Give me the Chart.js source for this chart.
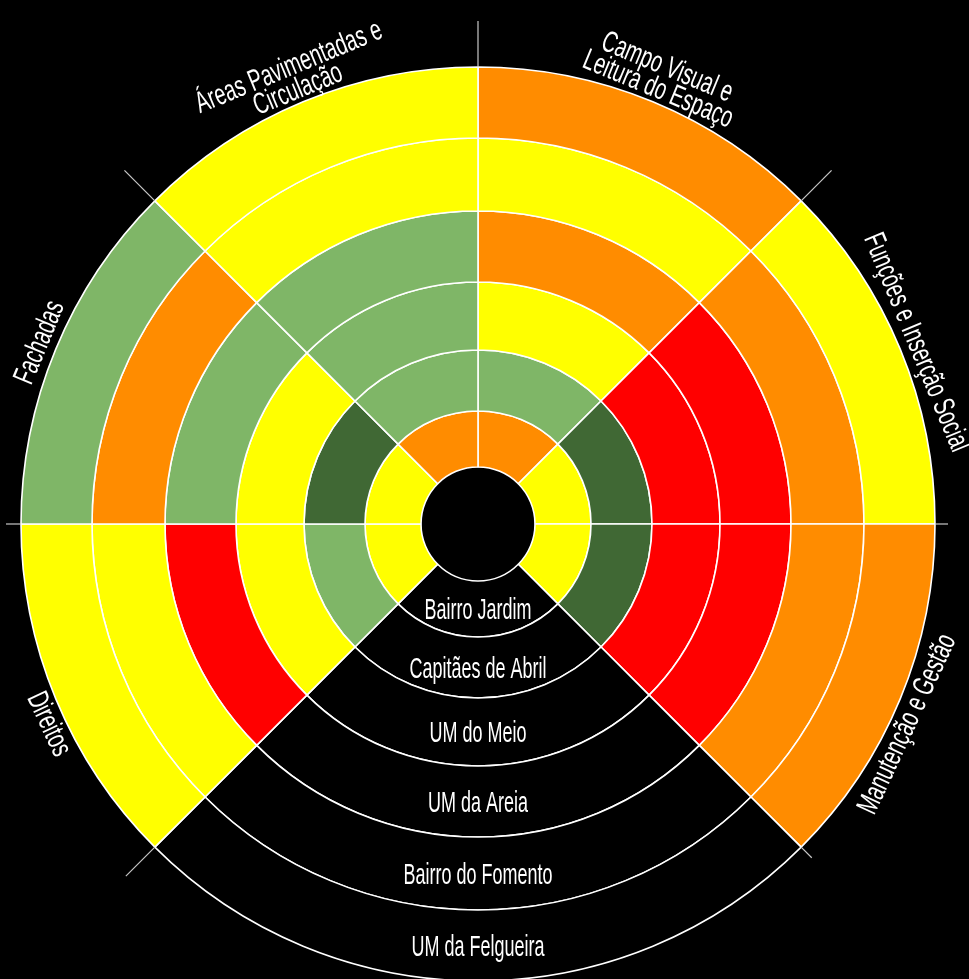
<!DOCTYPE html>
<html>
<head>
<meta charset="utf-8">
<script src="https://cdn.jsdelivr.net/npm/chart.js@4.4.1/dist/chart.umd.min.js"></script>
<style>
  html, body { margin: 0; padding: 0; background: #000; overflow: hidden; }
  #wrap { position: relative; width: 969px; height: 979px; }
</style>
</head>
<body>
<div id="wrap"><canvas id="chart" width="969" height="979"></canvas></div>
<script>
// Dimensões avaliadas, sentido horário a partir do topo (uma linha de texto por entrada)
const CATEGORIES = [
    ['Campo Visual e', 'Leitura do Espaço'],
    ['Funções e Inserção Social'],
    ['Manutenção e Gestão'],
    ['Direitos'],
    ['Fachadas'],
    ['Áreas Pavimentadas e', 'Circulação'],
];

// Unidades de análise, do centro para fora
const AREAS = ['Bairro Jardim', 'Capitães de Abril', 'UM do Meio', 'UM da Areia', 'Bairro do Fomento', 'UM da Felgueira'];

// Classificação: 1 = vermelho (pior) ... 5 = verde escuro (melhor), pela ordem de CATEGORIES
const BAIRRO_JARDIM = [2, 3, 3, 3, 3, 2];
const CAPITAES_DE_ABRIL = [4, 5, 5, 4, 5, 4];
const UM_DO_MEIO = [3, 1, 1, 3, 3, 4];
const UM_DA_AREIA = [2, 1, 1, 1, 4, 4];
const BAIRRO_DO_FOMENTO = [3, 2, 2, 3, 2, 3];
const UM_DA_FELGUEIRA = [2, 3, 2, 3, 4, 3];

const RATINGS = [BAIRRO_JARDIM, CAPITAES_DE_ABRIL, UM_DO_MEIO, UM_DA_AREIA, BAIRRO_DO_FOMENTO, UM_DA_FELGUEIRA];

const RATING_COLORS = {
    1: '#ff0000',
    2: '#ff8c00',
    3: '#ffff00',
    4: '#7fb667',
    5: '#406834',
};

// o setor dos nomes fica entre Manutenção e Direitos e ocupa dois setores
const GAP_INDEX = 3;
const GAP_SPAN = 2;

// estilo
const RING_WIDTHS = [56, 61, 68, 71, 73, 71]; // do centro para fora, px
const HOLE_RADIUS = 57;
const OUTER_RADIUS = 457;
const TICK_EXTRA = [46, 43, 13, 15, 41, 15, 43]; // prolongamento das linhas radiais, por fronteira
const LABEL_SHIFT = [0, 0, 2.5, -2.5, 0, 0]; // graus, ajuste fino da posição dos nomes
const FONT = '"Liberation Sans", Arial, sans-serif';

const spans = () => {
    const s = CATEGORIES.map(() => 1);
    s.splice(GAP_INDEX, 0, GAP_SPAN);
    return s;
};

const ringColors = (ratings) => {
    const c = ratings.map((r) => RATING_COLORS[r]);
    c.splice(GAP_INDEX, 0, '#000000');
    return c;
};

const sliceLabels = CATEGORIES.map((c) => c.join(' '));
sliceLabels.splice(GAP_INDEX, 0, '');

// Chart.js desenha o primeiro dataset por fora
const datasets = AREAS.map((area, i) => ({
    label: area,
    data: spans(),
    backgroundColor: ringColors(RATINGS[i]),
    borderColor: '#ffffff',
    borderWidth: 1.6,
    weight: RING_WIDTHS[i],
})).reverse();

const drawSqueezed = (ctx, text, x, y, rot, size, sx) => {
    ctx.save();
    ctx.translate(x, y);
    ctx.rotate(rot);
    ctx.scale(sx, 1);
    ctx.font = `${size}px ${FONT}`;
    ctx.fillText(text, 0, 0);
    ctx.restore();
};

const wheelDecor = {
    id: 'wheelDecor',
    afterDatasetsDraw(chart) {
        const { ctx } = chart;
        const outer = chart.getDatasetMeta(0).data;

        // linhas radiais prolongadas para fora da roda
        ctx.save();
        ctx.strokeStyle = '#c8c8c8';
        ctx.lineWidth = 1.2;
        outer.forEach((arc, i) => {
            const a = arc.startAngle;
            const r0 = arc.outerRadius;
            const r1 = r0 + TICK_EXTRA[i];
            ctx.beginPath();
            ctx.moveTo(arc.x + r0 * Math.cos(a), arc.y + r0 * Math.sin(a));
            ctx.lineTo(arc.x + r1 * Math.cos(a), arc.y + r1 * Math.sin(a));
            ctx.stroke();
        });
        ctx.restore();

        ctx.save();
        ctx.fillStyle = '#ffffff';
        ctx.textAlign = 'center';
        ctx.textBaseline = 'middle';

        // nomes das dimensões, tangentes à roda
        let k = 0;
        outer.forEach((arc, i) => {
            if (i === GAP_INDEX) return;
            const lines = CATEGORIES[k];
            const a = (arc.startAngle + arc.endAngle) / 2 + (LABEL_SHIFT[k] * Math.PI) / 180;
            k++;
            const upper = Math.sin(a) < 0;
            const rot = upper ? a + Math.PI / 2 : a - Math.PI / 2;
            const base = arc.outerRadius + (lines.length > 1 ? 13 : 17);
            lines.forEach((line, j) => {
                const idx = upper ? lines.length - 1 - j : j;
                const r = base + idx * 24;
                drawSqueezed(ctx, line, arc.x + r * Math.cos(a), arc.y + r * Math.sin(a), rot, 30, 0.66);
            });
        });

        // nomes das unidades no setor preto
        AREAS.forEach((area, i) => {
            const meta = chart.getDatasetMeta(AREAS.length - 1 - i);
            const gap = meta.data[GAP_INDEX];
            const r = (gap.innerRadius + gap.outerRadius) / 2 + 2;
            drawSqueezed(ctx, area, gap.x, gap.y + r, 0, 29, 0.62);
        });
        ctx.restore();
    },
};

new Chart(document.getElementById('chart'), {
    type: 'doughnut',
    data: { labels: sliceLabels, datasets },
    options: {
        responsive: false,
        devicePixelRatio: 1,
        animation: false,
        radius: OUTER_RADIUS,
        cutout: `${(HOLE_RADIUS / OUTER_RADIUS) * 100}%`,
        layout: { padding: { left: 0, right: 13, top: 69, bottom: 0 } },
        plugins: {
            legend: { display: false },
            tooltip: { enabled: false },
        },
    },
    plugins: [wheelDecor],
});
</script>
</body>
</html>
